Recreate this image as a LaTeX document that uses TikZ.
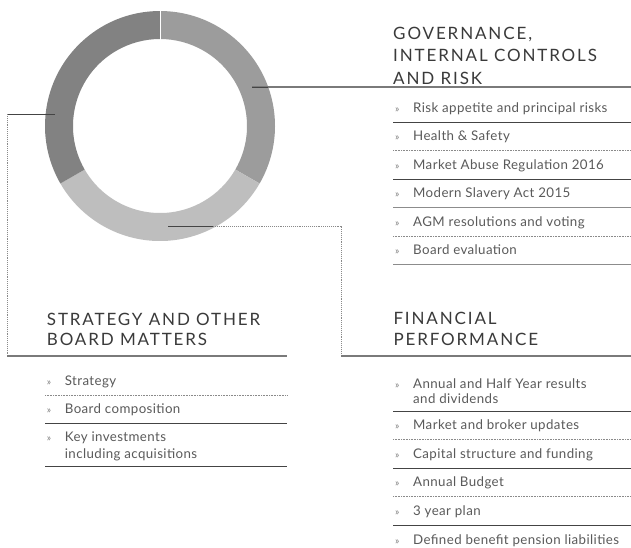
\documentclass[tikz,border=0pt]{standalone}
\usepackage{fontspec}
\usetikzlibrary{calc}
\setmainfont{Lato}
\newfontfamily\headfont{Lato}[LetterSpace=11]
\newfontfamily\itemfont{Lato}[LetterSpace=3]
\definecolor{headcol}{HTML}{3A3A3A}
\definecolor{itemcol}{HTML}{5A5A5A}
\definecolor{ringL}{HTML}{828282}
\definecolor{ringR}{HTML}{9C9C9C}
\definecolor{ringB}{HTML}{BEBEBE}
\definecolor{sepdark}{HTML}{444444}
\definecolor{sepgray}{HTML}{8C8C8C}
\definecolor{dotcol}{HTML}{8A8A8A}
\definecolor{conncol}{HTML}{7A7A7A}
\newcommand\myitem[4]{%
  \node[bul] (#1b) at (#2,#3) {\guillemotright};
  \node[itemtxt] (#1) at ({#2+18},#3) {#4};}
\begin{document}
\begin{tikzpicture}[x=1pt,y=1pt,
  head/.style={anchor=base west,inner sep=0pt,text=headcol,font=\headfont\fontsize{17}{20}\selectfont},
  itemtxt/.style={anchor=base west,inner sep=0pt,text=itemcol,font=\itemfont\fontsize{13.3}{16}\selectfont},
  bul/.style={anchor=base west,inner sep=0pt,text=itemcol!80,font=\itemfont\fontsize{10}{11}\selectfont},
  sepsolid/.style={draw=sepdark,line width=0.8pt},
  septhick/.style={draw=sepgray,line width=1.3pt},
  sepdot/.style={draw=dotcol,line width=0.7pt,dash pattern=on 0.7pt off 0.9pt},
  connsolid/.style={draw=conncol,line width=1.3pt},
  conninner/.style={draw=sepdark,line width=1pt},
  conndot/.style={draw=dotcol,line width=0.9pt,dash pattern=on 0.9pt off 1pt}]
\useasboundingbox (0,0) rectangle (631,-547);
\fill[white] (0,0) rectangle (631,-547);
% ring
\coordinate (c) at (160,-126);
\fill[ringR] ($(c)+(90:115)$) arc[start angle=90,end angle=-30,radius=115]
  -- ($(c)+(-30:87)$) arc[start angle=-30,end angle=90,radius=87] -- cycle;
\fill[ringB] ($(c)+(-30:115)$) arc[start angle=-30,end angle=-150,radius=115]
  -- ($(c)+(-150:87)$) arc[start angle=-150,end angle=-30,radius=87] -- cycle;
\fill[ringL] ($(c)+(90:115)$) arc[start angle=90,end angle=210,radius=115]
  -- ($(c)+(210:87)$) arc[start angle=210,end angle=90,radius=87] -- cycle;
\draw[white,line width=0.6pt] ($(c)+(90:86)$) -- ($(c)+(90:116)$);
% connectors
\coordinate (gA) at (252,-87);
\coordinate (gR) at (268,-87);
\coordinate (gB) at (631,-87);
\draw[connsolid] (gA) -- (gB);
\draw[conninner] (gA) -- (gR);
\coordinate (sA) at (55,-114);
\coordinate (sB) at (7,-114);
\coordinate (sC) at (7,-356);
\coordinate (sD) at (287,-356);
\draw[conninner] (sA) -- (sB);
\draw[conndot] (sB) -- (sC);
\draw[connsolid] (sC) -- (sD);
\coordinate (fA) at (168,-226);
\coordinate (fR) at (213,-226);
\coordinate (fB) at (341,-226);
\coordinate (fC) at (341,-356);
\coordinate (fD) at (631,-356);
\draw[conninner] (fA) -- (fR);
\draw[conndot] (fR) -- (fB) -- (fC);
\draw[connsolid] (fC) -- (fD);
% governance heading
\node[head] (gh1) at (393,-39) {GOVERNANCE,};
\node[head] (gh2) at (393,-61.5) {INTERNAL CONTROLS};
\node[head] (gh3) at (393,-84) {AND RISK};
% governance items
\myitem{g1}{395}{-112}{Risk appetite and principal risks}
\myitem{g2}{395}{-140.5}{Health \& Safety}
\myitem{g3}{395}{-169}{Market Abuse Regulation 2016}
\myitem{g4}{395}{-197.5}{Modern Slavery Act 2015}
\myitem{g5}{395}{-226}{AGM resolutions and voting}
\myitem{g6}{395}{-254.5}{Board evaluation}
\coordinate (gl1) at (393,-122);   \coordinate (gr1) at (631,-122);
\coordinate (gl2) at (393,-150.5); \coordinate (gr2) at (631,-150.5);
\coordinate (gl3) at (393,-179);   \coordinate (gr3) at (631,-179);
\coordinate (gl4) at (393,-207.5); \coordinate (gr4) at (631,-207.5);
\coordinate (gl5) at (393,-236);   \coordinate (gr5) at (631,-236);
\coordinate (gl6) at (393,-264.5); \coordinate (gr6) at (631,-264.5);
\draw[sepsolid] (gl1) -- (gr1);
\draw[sepdot] (gl2) -- (gr2);
\draw[sepsolid] (gl3) -- (gr3);
\draw[septhick] (gl4) -- (gr4);
\draw[sepdot] (gl5) -- (gr5);
\draw[septhick] (gl6) -- (gr6);
% strategy heading
\node[head] (sh1) at (46.7,-325) {STRATEGY AND OTHER};
\node[head] (sh2) at (46.7,-345) {BOARD MATTERS};
\myitem{s1}{46.7}{-385}{Strategy}
\myitem{s2}{46.7}{-413}{Board composition}
\myitem{s3}{46.7}{-441.5}{Key investments}
\node[itemtxt] (s3b2) at (64.7,-458) {including acquisitions};
\coordinate (sl1) at (45,-395);   \coordinate (sr1) at (287,-395);
\coordinate (sl2) at (45,-423.3); \coordinate (sr2) at (287,-423.3);
\coordinate (sl3) at (45,-466.7); \coordinate (sr3) at (287,-466.7);
\draw[sepdot] (sl1) -- (sr1);
\draw[sepsolid] (sl2) -- (sr2);
\draw[sepsolid] (sl3) -- (sr3);
% financial heading
\node[head] (fh1) at (393.3,-324) {FINANCIAL};
\node[head] (fh2) at (393.3,-345) {PERFORMANCE};
\myitem{f1}{395}{-388}{Annual and Half Year results}
\node[itemtxt] (f1c) at (413,-403) {and dividends};
\myitem{f2}{395}{-429.5}{Market and broker updates}
\myitem{f3}{395}{-458}{Capital structure and funding}
\myitem{f4}{395}{-486.5}{Annual Budget}
\myitem{f5}{395}{-515}{3 year plan}
\myitem{f6}{395}{-544}{Defined benefit pension liabilities}
\coordinate (fl1) at (393,-411);   \coordinate (fr1) at (631,-411);
\coordinate (fl2) at (393,-439.5); \coordinate (fr2) at (631,-439.5);
\coordinate (fl3) at (393,-468);   \coordinate (fr3) at (631,-468);
\coordinate (fl4) at (393,-496.5); \coordinate (fr4) at (631,-496.5);
\coordinate (fl5) at (393,-525);   \coordinate (fr5) at (631,-525);
\draw[sepsolid] (fl1) -- (fr1);
\draw[sepdot] (fl2) -- (fr2);
\draw[sepsolid] (fl3) -- (fr3);
\draw[sepdot] (fl4) -- (fr4);
\draw[sepsolid] (fl5) -- (fr5);
\end{tikzpicture}
\end{document}
